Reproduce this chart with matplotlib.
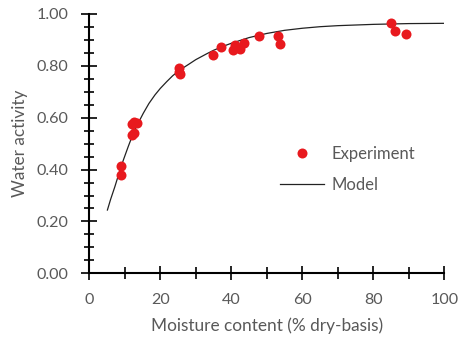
import matplotlib
matplotlib.use('Agg')
import matplotlib.pyplot as plt
from matplotlib.ticker import MultipleLocator

plt.rcParams['font.family'] = ['Lato', 'DejaVu Sans']

# Datos experimentales (contenido de humedad, actividad de agua)
exp_moisture = [8.9, 8.9, 12.0, 12.5, 13.3, 12.0, 12.6, 25.2, 25.4, 25.6,
                34.9, 37.1, 40.4, 41.0, 42.5, 43.7, 47.8, 53.2, 53.8,
                84.9, 86.1, 89.2]
exp_aw = [0.415, 0.379, 0.575, 0.582, 0.580, 0.533, 0.540, 0.792, 0.775, 0.768,
          0.843, 0.871, 0.863, 0.881, 0.865, 0.890, 0.915, 0.914, 0.885,
          0.964, 0.934, 0.923]

# Curva del modelo
model_moisture = [5.1, 6.0, 7.2, 8.4, 9.6, 11.0, 12.4, 13.8, 15.2, 16.8, 18.5, 20.0, 21.8,
                  23.5, 25.5, 28.0, 30.0, 33.0, 35.0, 38.0, 40.0, 45.0, 50.0, 55.0,
                  60.0, 65.0, 70.0, 80.0, 90.0, 100.0]
model_aw = [0.244, 0.285, 0.334, 0.387, 0.437, 0.490, 0.540, 0.580, 0.617, 0.655, 0.688,
            0.713, 0.739, 0.762, 0.784, 0.806, 0.824, 0.846, 0.860, 0.877, 0.887, 0.909,
            0.925, 0.937, 0.945, 0.951, 0.955, 0.960, 0.963, 0.964]

gris = '#595959'

fig = plt.figure(figsize=(4.61, 3.38), dpi=100)
ax = fig.add_axes([0.1937, 0.1914, 0.7701, 0.7672])

ax.plot(model_moisture, model_aw, color='#222222', lw=0.9, label='Model', zorder=2)
ax.plot(exp_moisture, exp_aw, 'o', color='#E8191E', markersize=7.2, mec='none',
        label='Experiment', zorder=3)

ax.set_xlim(0, 100)
ax.set_ylim(0, 1.0)
ax.xaxis.set_major_locator(MultipleLocator(20))
ax.xaxis.set_minor_locator(MultipleLocator(10))
ax.yaxis.set_major_locator(MultipleLocator(0.2))
ax.yaxis.set_minor_locator(MultipleLocator(0.05))
ax.yaxis.set_major_formatter(plt.FormatStrFormatter('%.2f'))

for lado in ['top', 'right']:
    ax.spines[lado].set_visible(False)
for lado in ['left', 'bottom']:
    ax.spines[lado].set_linewidth(1.5)
    ax.spines[lado].set_color('black')

ax.tick_params(axis='both', which='both', direction='inout', color='black',
               labelcolor=gris, labelsize=11.6, width=1.2)
ax.tick_params(axis='y', which='major', length=11, pad=9.5)
ax.tick_params(axis='y', which='minor', length=6.5)
ax.tick_params(axis='x', which='major', length=10, pad=9)
ax.tick_params(axis='x', which='minor', length=9)

ax.set_xlabel('Moisture content (% dry-basis)', color=gris, fontsize=12.4, labelpad=8)
ax.set_ylabel('Water activity', color=gris, fontsize=12.4, labelpad=6)

handles, labels = ax.get_legend_handles_labels()
leg = ax.legend(handles[::-1], labels[::-1], frameon=False, fontsize=12,
                loc='upper left', bbox_to_anchor=(0.537, 0.49), borderpad=0,
                borderaxespad=0, handlelength=2.65, handletextpad=0.45,
                labelspacing=0.9)
for t in leg.get_texts():
    t.set_color(gris)

plt.savefig('out.png', dpi=100)
